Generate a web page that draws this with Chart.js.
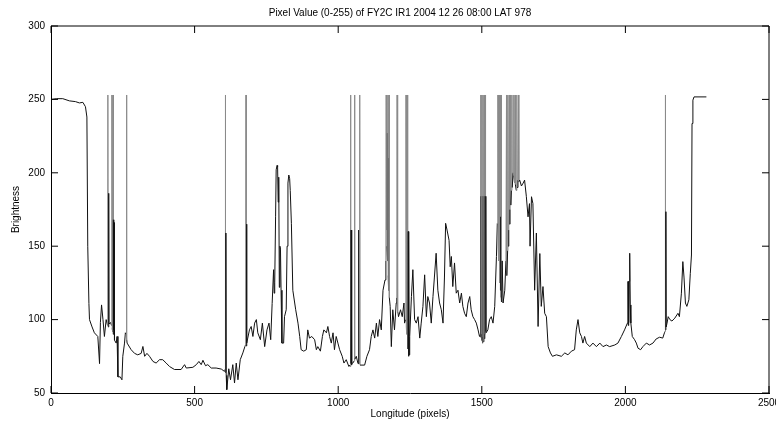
<!DOCTYPE html>
<html lang="en">
<head>
<meta charset="utf-8">
<title>Pixel Value FY2C IR1</title>
<script src="https://cdn.jsdelivr.net/npm/chart.js@4.4.1/dist/chart.umd.min.js"></script>
<style>
  body { margin: 0; background: #fff; }
  canvas { display: block; }
</style>
</head>
<body>
<canvas id="grafico" width="776" height="425"></canvas>
<script>
// textos y marcas de los ejes
const titulo = 'Pixel Value (0-255) of FY2C IR1 2004 12 26 08:00 LAT 978';
const tituloX = 'Longitude (pixels)';
const tituloY = 'Brightness';
const ticksX = [0, 500, 1000, 1500, 2000, 2500];
const ticksY = [50, 100, 150, 200, 250, 300];

// perfil: longitud (pixel) y brillo
const longitud = [
  0, 20, 41, 64, 85, 99, 111, 120, 125, 128,
  132, 134, 143, 151, 163, 169, 172, 176, 181, 186,
  192, 197, 198, 199, 201, 202, 207, 211, 212, 213,
  214, 215, 216, 217, 218, 219, 220, 221, 227, 230,
  233, 241, 247, 250, 256, 259, 262, 263, 264, 265,
  // 279 - 604
  279, 291, 302, 314, 320, 326, 334, 343, 355, 366,
  378, 389, 401, 413, 430, 453, 465, 471, 494, 506,
  515, 523, 529, 538, 546, 558, 575, 593, 604,
  // 606 - 765
  606, 607, 608, 609, 610, 612, 619, 625, 633, 639,
  645, 651, 659, 668, 675, 678, 679, 680, 681, 682,
  691, 697, 703, 709, 715, 720, 729, 736, 744, 752,
  759, 765,
  // picos 770 - 871
  770, 775, 777, 779, 782, 784, 787, 789, 791, 793,
  795, 797, 799, 801, 804, 810, 813, 819, 822, 825,
  828, 831, 833, 837, 842, 852, 860, 866, 871,
  // 880 - 1037
  880, 889, 894, 900, 908, 918, 924, 929, 938, 945,
  950, 959, 964, 970, 976, 982, 987, 993, 999, 1005,
  1014, 1020, 1028, 1037,
  // 1040 - 1163
  1040, 1042, 1043, 1044, 1045, 1046, 1047, 1048, 1051, 1056,
  1057, 1058, 1063, 1069, 1071, 1072, 1073, 1075, 1076, 1078,
  1092, 1100, 1109, 1115, 1121, 1127, 1133, 1138, 1144, 1150,
  1156, 1163,
  // 1166 - 1247
  1166, 1167, 1168, 1169, 1170, 1171, 1172, 1173, 1174, 1175,
  1176, 1177, 1178, 1181, 1185, 1190, 1196, 1202, 1204, 1205,
  1206, 1207, 1208, 1210, 1217, 1223, 1229, 1231, 1235, 1236,
  1237, 1238, 1239, 1240, 1241, 1242, 1243, 1244, 1245, 1246,
  1247,
  // 1249 - 1495
  1249, 1255, 1260, 1266, 1272, 1278, 1284, 1289, 1295, 1301,
  1307, 1312, 1318, 1324, 1330, 1335, 1341, 1347, 1353, 1359,
  1365, 1370, 1374, 1379, 1386, 1390, 1394, 1399, 1405, 1411,
  1417, 1423, 1429, 1434, 1440, 1446, 1452, 1458, 1463, 1469,
  1475, 1481, 1487, 1492, 1495,
  // 1496 - 1554
  1496, 1497, 1498, 1499, 1500, 1501, 1502, 1503, 1504, 1505,
  1506, 1507, 1508, 1509, 1510, 1511, 1512, 1513, 1514, 1515,
  1521, 1527, 1533, 1539, 1545, 1551, 1554,
  // 1556 - 1632
  1556, 1557, 1558, 1559, 1560, 1561, 1562, 1563, 1564, 1565,
  1566, 1567, 1568, 1569, 1571, 1574, 1580, 1584, 1586, 1587,
  1590, 1591, 1592, 1594, 1596, 1597, 1598, 1600, 1601, 1603,
  1605, 1606, 1609, 1611, 1612, 1614, 1616, 1617, 1620, 1622,
  1623, 1626, 1628, 1629, 1632,
  // 1638 - 1746
  1638, 1644, 1649, 1655, 1661, 1666, 1668, 1673, 1678, 1684,
  1690, 1696, 1702, 1707, 1713, 1719, 1725, 1731, 1739, 1746,
  // 1760 - 2084
  1760, 1777, 1789, 1800, 1812, 1823, 1829, 1835, 1841, 1847,
  1852, 1858, 1864, 1876, 1887, 1899, 1911, 1922, 1934, 1945,
  1963, 1974, 1986, 1997, 2007, 2009, 2010, 2011, 2012, 2013,
  2015, 2017, 2019, 2024, 2032, 2038, 2044, 2053, 2061, 2073,
  2084,
  // 2096 - 2282
  2096, 2107, 2119, 2130, 2136, 2138, 2139, 2140, 2141, 2142,
  2145, 2149, 2155, 2162, 2172, 2183, 2188, 2195, 2200, 2204,
  2209, 2214, 2221, 2226, 2230, 2232, 2235, 2239, 2282
];

const brillo = [
  250, 250.5, 250.5, 249, 248.5, 247.6, 248, 245, 238, 150,
  111, 100, 95, 91, 88.5, 70, 98, 110, 100, 88.5,
  100, 96, 253, 95, 186, 97, 98, 96, 253, 94,
  168, 92, 253, 90, 168, 93, 166, 86, 84, 88.5,
  61, 61, 59, 75, 84, 91, 90, 253, 86, 84,
  // 279 - 604
  79.5, 77, 76, 77, 81.7, 75, 77, 75, 71.5, 70.4,
  72.7, 72.7, 70.4, 68, 66, 66, 69.3, 67, 67.5, 69.3,
  71.5, 69.3, 72.3, 68.6, 69.3, 67, 67, 66.3, 64.7,
  // 606 - 765
  66, 253, 64, 159, 62, 52.3, 66.5, 59, 69.3, 56.8,
  70.4, 59, 72.7, 77.3, 81.6, 83, 253, 82, 165, 84,
  93, 95.3, 88.5, 97.6, 100, 91, 86.3, 97.6, 81.6, 93,
  97.6, 86.3,
  // picos 770 - 871
  111, 134, 118, 125, 170, 202, 205, 204, 180, 197,
  122, 150, 148, 120, 84, 84, 102, 106.7, 150, 193,
  198.5, 196, 188, 165.6, 120, 106.7, 97.6, 88.5, 79.5,
  // 880 - 1037
  78.5, 79.5, 93, 87.4, 88.5, 86.3, 79.5, 81.6, 78.5, 88.5,
  93, 91, 95.3, 88.5, 84, 91, 79.5, 88.5, 84, 79.5,
  75, 70.4, 72.7, 68.1,
  // 1040 - 1163
  69, 68, 253, 70, 161, 69, 161, 70, 70.4, 72,
  253, 73, 75, 70, 71, 161, 70, 253, 69, 69,
  69, 75, 79.5, 88.5, 93, 87.4, 97.6, 88.5, 100, 93,
  120, 127,
  // 1166 - 1247
  140, 253, 161, 253, 150, 227, 140, 253, 130, 210,
  120, 253, 115, 109, 81.6, 106.7, 93, 111.3, 115, 253,
  110, 253, 105, 102, 106.7, 102, 111.3, 97.6, 100, 253,
  95, 253, 90, 253, 85, 253, 80, 160, 75, 160,
  76,
  // 1249 - 1495
  88.5, 115.7, 134, 100, 97.6, 102, 87.4, 97.6, 109, 130.5,
  102, 115.7, 111.3, 97.6, 115.7, 129, 145.2, 120, 111.3, 106.7,
  97.6, 129, 165.6, 161, 154, 136, 143, 122.5, 138.6, 118,
  120, 111.3, 118, 109, 104.3, 102, 111.3, 115.7, 106.7, 102,
  100, 97.6, 93, 88.5, 90,
  // 1496 - 1554
  253, 88, 184, 86, 253, 90, 184, 84, 253, 88,
  184, 85, 253, 87, 184, 90, 253, 92, 184, 91,
  93, 100, 102, 97.6, 109, 143, 165.6,
  // 1556 - 1632
  253, 150, 253, 140, 253, 130, 253, 125, 253, 120,
  170, 115, 253, 112, 140, 111.3, 120, 140, 253, 130,
  147, 253, 150, 161, 253, 165, 175, 253, 178, 188,
  253, 190, 200, 253, 198, 193, 253, 192, 188, 253,
  190, 195, 253, 194, 195,
  // 1638 - 1746
  191, 193, 195, 184, 170, 179, 150, 183.7, 179, 120,
  159, 95.3, 145, 109, 122.5, 104.3, 102, 81.6, 77.3, 75,
  // 1760 - 2084
  76, 75, 77.3, 76, 78.5, 79.5, 93, 100, 91, 88.5,
  84, 88.5, 84, 81.6, 84, 81.6, 84, 81.6, 82.7, 81.6,
  82.7, 84, 88.5, 93, 97.6, 126, 96, 126, 98, 126,
  145.2, 110, 97.6, 88.5, 86.3, 84, 80.5, 79.5, 81.6, 84,
  82.7,
  // 2096 - 2282
  84, 86.8, 88, 87.4, 91, 92, 253, 93, 173.5, 95,
  97.6, 102, 100, 99, 101, 104.3, 102, 118, 139.5, 129,
  111.3, 109, 113.5, 131.5, 144, 233.6, 249.5, 251.7, 251.7
];

const fuente = { family: '"Liberation Sans", Arial, sans-serif', size: 10 };

// caja superior/derecha y marcas hacia dentro; se trazan en coordenadas
// enteras para que el antialias las deje como en el original (gris suave)
const marcoEjes = {
  id: 'marcoEjes',
  afterDraw(chart) {
    const { ctx, chartArea: a, scales } = chart;
    const L = Math.round(a.left), R = Math.round(a.right);
    const T = Math.round(a.top), B = Math.round(a.bottom);
    ctx.save();
    ctx.strokeStyle = '#000';
    ctx.lineWidth = 1;
    ctx.setLineDash([]);
    ctx.beginPath();
    ctx.moveTo(L, T); ctx.lineTo(R, T);
    ctx.lineTo(R, B);
    ticksX.forEach(v => {
      const x = scales.x.getPixelForValue(v);
      ctx.moveTo(x, B); ctx.lineTo(x, B - 7);
      ctx.moveTo(x, T); ctx.lineTo(x, T + 7);
    });
    ticksY.forEach(v => {
      const y = scales.y.getPixelForValue(v);
      ctx.moveTo(L, y); ctx.lineTo(L + 7, y);
      ctx.moveTo(R, y); ctx.lineTo(R - 7, y);
    });
    ctx.stroke();
    ctx.fillStyle = '#000';
    ctx.font = '10px "Liberation Sans", Arial, sans-serif';
    ctx.textAlign = 'center';
    ctx.textBaseline = 'middle';
    ctx.fillText(titulo, 400, 13);
    ctx.restore();
  }
};

// solo la linea del eje, sin rejilla ni marcas de chart.js
const soloBorde = { display: true, drawOnChartArea: false, drawTicks: false, color: '#000' };

new Chart(document.getElementById('grafico'), {
  type: 'line',
  data: {
    datasets: [{
      data: longitud.map((x, i) => ({ x: x, y: brillo[i] })),
      borderColor: '#111',
      borderWidth: 1,
      pointRadius: 0,
      tension: 0,
      segment: {
        borderColor: c => (c.p0.parsed.y >= 252.5 || c.p1.parsed.y >= 252.5) ? '#8a8a8a' : '#111'
      }
    }]
  },
  options: {
    responsive: false,
    animation: false,
    events: [],
    layout: { autoPadding: false, padding: { top: 26, right: 7, left: 0, bottom: 0 } },
    plugins: {
      legend: { display: false },
      tooltip: { enabled: false },
      title: { display: false }
    },
    scales: {
      x: {
        type: 'linear',
        min: 0,
        max: 2500,
        afterBuildTicks: s => { s.ticks = ticksX.map(v => ({ value: v })); },
        // sin hueco extra para la ultima etiqueta, como en el original
        afterFit: s => { s.height = 32; s.paddingLeft = 0; s.paddingRight = 0; },
        grid: soloBorde,
        border: { display: true, color: '#000', width: 1 },
        ticks: { color: '#000', font: fuente, padding: 4, maxRotation: 0, callback: v => String(v) },
        title: { display: true, text: tituloX, color: '#000', font: fuente, padding: { top: 0, bottom: 5 } }
      },
      y: {
        type: 'linear',
        min: 50,
        max: 300,
        afterBuildTicks: s => { s.ticks = ticksY.map(v => ({ value: v })); },
        afterFit: s => { s.width = 51; s.paddingTop = 0; s.paddingBottom = 0; },
        grid: soloBorde,
        border: { display: true, color: '#000', width: 1 },
        ticks: { color: '#000', font: fuente, padding: 6, callback: v => String(v) },
        title: { display: true, text: tituloY, color: '#000', font: fuente, padding: { top: 10, bottom: 0 } }
      }
    }
  },
  plugins: [marcoEjes]
});
</script>
</body>
</html>
